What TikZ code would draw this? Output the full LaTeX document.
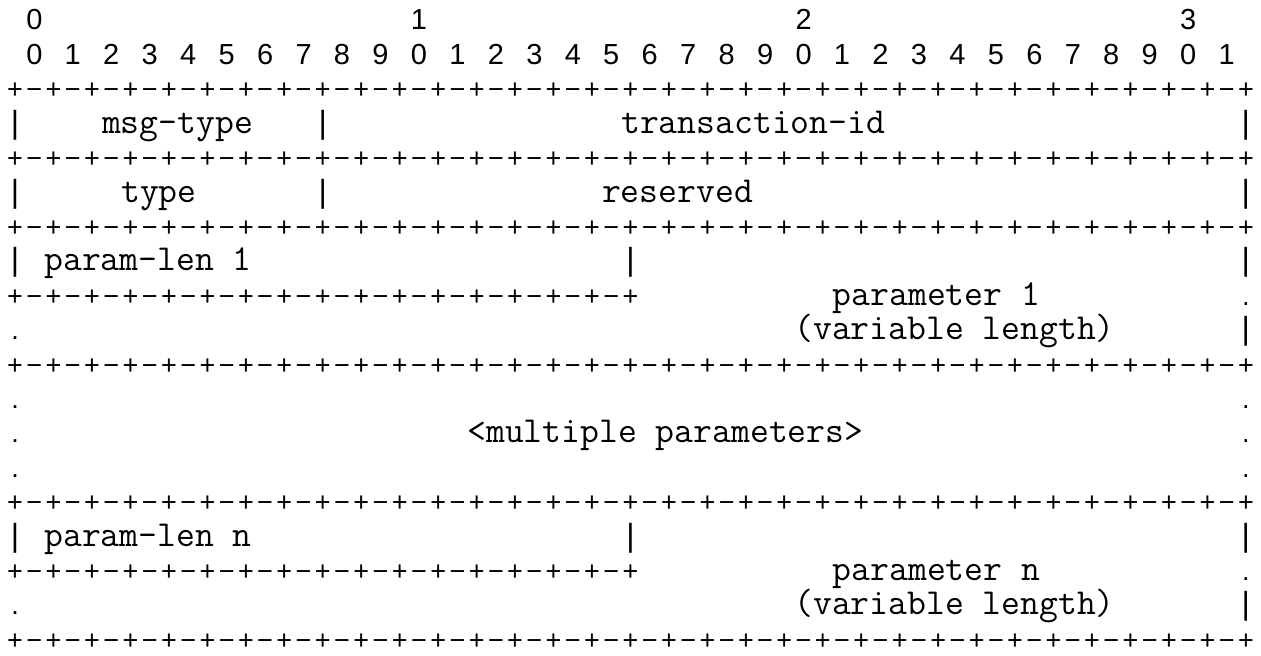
\documentclass[tikz,border=0pt]{standalone}
\usepackage{fontspec}
\usepackage{tikz}
\newfontfamily\gridfont{Liberation Sans}
\tikzset{
  cell/.style={inner sep=0pt,anchor=base,font=\gridfont\fontsize{13.5}{16}\selectfont},
  num/.style={cell,font=\gridfont\fontsize{14.5}{17}\selectfont},
  wall/.style={cell,font=\gridfont\fontsize{16}{19}\selectfont},
  field/.style={inner sep=0pt,anchor=base west,font=\ttfamily\fontsize{18.3}{22}\selectfont},
}
\begin{document}
\begin{tikzpicture}[x=9.615pt,y=-17.2pt]
  \useasboundingbox (-0.286,0.128) rectangle (65.286,19.169);
  \foreach \d in {0,...,3}
    \node[num] (dec\d) at (20*\d+1.5,1) {\d};
  \foreach \i in {0,...,31}{
    \pgfmathtruncatemacro{\bitval}{mod(\i,10)}
    \node[num] (bit\i) at (2*\i+1.5,2) {\bitval};
  }
  % +-+ rules
  \foreach \r/\upto in {3/64,5/64,7/64,9/32,11/64,15/64,17/32,19/64}{
    \foreach \c in {0,2,...,\upto}
      \node[cell] (plus-\r-\c) at (\c+0.5,\r) {+};
    \pgfmathtruncatemacro{\lastodd}{\upto-1}
    \foreach \c in {1,3,...,\lastodd}
      \node[cell] (dash-\r-\c) at (\c+0.5,\r) {\char"2212};
  }
  % side walls and dots
  \foreach \r/\c in {4/0,4/16,4/64,6/0,6/16,6/64,8/0,8/32,8/64,10/64,16/0,16/32,16/64,18/64}
    \node[wall] (wall-\r-\c) at (\c+0.5,\r) {|};
  \foreach \r/\c in {9/64,10/0,12/0,12/64,13/0,13/64,14/0,14/64,17/64,18/0}
    \node[cell] (dot-\r-\c) at (\c+0.5,\r) {.};
  % fields
  \node[field] (msgtype) at (5,4) {msg-type};
  \node[field] (transid) at (32,4) {transaction-id};
  \node[field] (type) at (6,6) {type};
  \node[field] (reserved) at (31,6) {reserved};
  \node[field] (lenone) at (2,8) {param-len 1};
  \node[field] (parone) at (43,9) {parameter 1};
  \node[field] (varone) at (41,10) {(variable length)};
  \node[field] (multi) at (24,13) {<multiple parameters>};
  \node[field] (lenn) at (2,16) {param-len n};
  \node[field] (parn) at (43,17) {parameter n};
  \node[field] (varn) at (41,18) {(variable length)};
\end{tikzpicture}
\end{document}
